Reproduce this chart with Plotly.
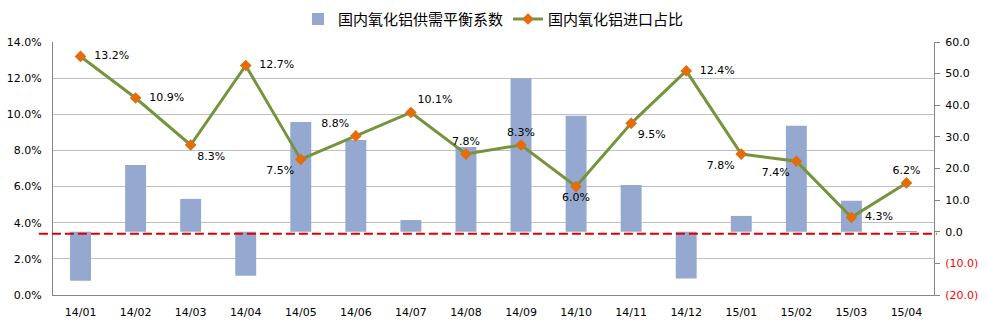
import plotly.graph_objects as go

months = ["14/01","14/02","14/03","14/04","14/05","14/06","14/07","14/08",
          "14/09","14/10","14/11","14/12","15/01","15/02","15/03","15/04"]
balance = [-15.5, 21.1, 10.4, -13.9, 34.7, 29.0, 3.7, 26.8,
           48.5, 36.7, 14.8, -14.8, 5.0, 33.5, 9.8, 0.2]
import_share = [13.2, 10.9, 8.3, 12.7, 7.5, 8.8, 10.1, 7.8,
                8.3, 6.0, 9.5, 12.4, 7.8, 7.4, 4.3, 6.2]
label_pos = ["middle right","middle right","bottom right","middle right","bottom left",
             "top left","top right","top center","top center","bottom center",
             "bottom right","middle right","bottom left","bottom left","middle right","top center"]
left_ticks = [0, 2, 4, 6, 8, 10, 12, 14]
right_ticks = [-20, -10, 0, 10, 20, 30, 40, 50, 60]

def rlabel(v):
    if v < 0:
        return '<span style="color:#FF0000">(%.1f)</span>' % abs(v)
    return "%.1f" % v

def plabel(v, pos):
    s = "%.1f%%" % v
    if pos == "middle right":
        return "  " + s
    return s

fig = go.Figure()
fig.add_trace(go.Bar(
    x=months, y=balance, name="国内氧化铝供需平衡系数",
    marker=dict(color="#94A8D0", line=dict(width=0)), width=0.38, yaxis="y"))
fig.add_trace(go.Scatter(
    x=months, y=import_share, name="国内氧化铝进口占比", mode="lines+markers+text",
    line=dict(color="#77933C", width=3),
    marker=dict(symbol="diamond", color="#E46C0A", size=9),
    text=[plabel(v, p) for v, p in zip(import_share, label_pos)], textposition=label_pos,
    textfont=dict(size=11, color="#000000"), cliponaxis=False, yaxis="y2"))

fig.add_shape(type="line", xref="paper", yref="y", x0=-0.016, x1=1.003, y0=-0.6, y1=-0.6,
              line=dict(color="#E00000", width=2, dash="9px,4px"))

fig.update_layout(
    width=989, height=332, margin=dict(l=53, r=55, t=42, b=37, autoexpand=False),
    paper_bgcolor="white", plot_bgcolor="white",
    font=dict(family="DejaVu Sans, Arial", size=11, color="#000000"),
    showlegend=True,
    legend=dict(orientation="h", x=0.5, xanchor="center", y=1.09, yanchor="middle",
                font=dict(size=15, family="Noto Sans CJK SC"), traceorder="normal",
                bgcolor="rgba(0,0,0,0)"),
    xaxis=dict(showgrid=False, showline=True, linecolor="#868686", linewidth=1,
               ticks="outside", ticklen=7, tickcolor="rgba(0,0,0,0)",
               tickfont=dict(size=11), range=[-0.5, 15.5], automargin=False),
    yaxis=dict(range=[-20, 60], side="right", tickvals=right_ticks,
               ticktext=[rlabel(v) for v in right_ticks], showgrid=False, showline=True,
               linecolor="#868686", ticks="outside", ticklen=5, tickcolor="#868686",
               zeroline=False, tickfont=dict(size=11), automargin=False,
               ticklabelstandoff=3),
    yaxis2=dict(range=[0, 14], overlaying="y", side="left", tickvals=left_ticks,
                ticktext=["%.1f%%" % v for v in left_ticks],
                showgrid=True, gridcolor="#C0C0C0", gridwidth=1, showline=True,
                linecolor="#868686", ticks="", zeroline=False, tickfont=dict(size=11),
                automargin=False, ticklabelstandoff=8),
)
fig.write_html("out.html")
